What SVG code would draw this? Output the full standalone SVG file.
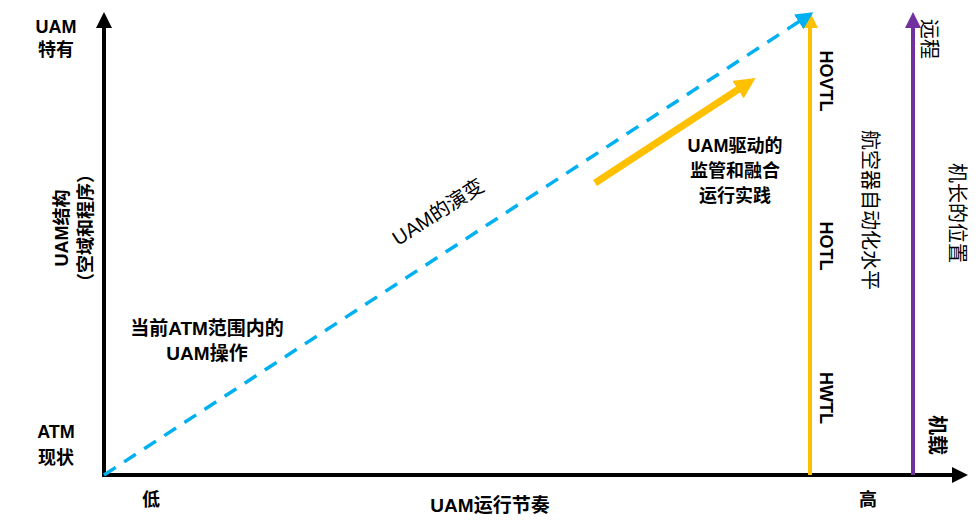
<svg xmlns="http://www.w3.org/2000/svg" width="980" height="529" viewBox="0 0 980 529">
<style>
text{font-family:"Liberation Sans","Noto Sans CJK SC",sans-serif;font-size:18px;font-weight:bold;fill:#000;text-anchor:middle;dominant-baseline:central}
.n{font-weight:normal}
.v{font-size:20px}
.l{font-size:19px}
</style>
<defs>
<marker id="ab" markerWidth="4" markerHeight="4" refX="2" refY="2" orient="auto" markerUnits="strokeWidth"><path d="M0,0 L4,2 L0,4 z" fill="#000"/></marker>
<marker id="ay" markerWidth="4" markerHeight="4" refX="2" refY="2" orient="auto" markerUnits="strokeWidth"><path d="M0,0 L4,2 L0,4 z" fill="#FFC000"/></marker>
<marker id="ap" markerWidth="4" markerHeight="4" refX="2" refY="2" orient="auto" markerUnits="strokeWidth"><path d="M0,0 L4,2 L0,4 z" fill="#7030A0"/></marker>
<marker id="ac" markerWidth="5" markerHeight="5" refX="2.5" refY="2.5" orient="auto" markerUnits="strokeWidth"><path d="M0,0 L5,2.5 L0,5 z" fill="#00B0F0"/></marker>
<marker id="ay2" markerWidth="3" markerHeight="3" refX="1.2" refY="1.5" orient="auto" markerUnits="strokeWidth"><path d="M0,0 L3,1.5 L0,3 z" fill="#FFC000"/></marker>
</defs>
<g id="connectors">
<line x1="104" y1="476" x2="104" y2="20" stroke="#000" stroke-width="4" marker-end="url(#ab)"/>
<line x1="102" y1="475" x2="960" y2="475" stroke="#000" stroke-width="4" marker-end="url(#ab)"/>
<line x1="810" y1="475" x2="810" y2="20" stroke="#FFC000" stroke-width="4" marker-end="url(#ay)"/>
<line x1="913" y1="475" x2="913" y2="20" stroke="#7030A0" stroke-width="4" marker-end="url(#ap)"/>
<line x1="104" y1="475" x2="806" y2="17" stroke="#00B0F0" stroke-width="3.5" stroke-dasharray="14,10" marker-end="url(#ac)"/>
<line x1="595" y1="183" x2="745" y2="85" stroke="#FFC000" stroke-width="7" marker-end="url(#ay2)"/>
</g>
<g id="y-top"><text x="56" y="27">UAM</text><text x="56" y="50">特有</text></g>
<g id="y-bottom"><text x="56" y="432">ATM</text><text x="56" y="458">现状</text></g>
<g id="y-label"><text transform="translate(62,228) rotate(-90)">UAM结构</text><text transform="translate(86,228) rotate(-90)">（空域和程序）</text></g>
<g id="x-low"><text x="151" y="500">低</text></g>
<g id="x-high"><text x="868" y="500">高</text></g>
<g id="x-label"><text class="l" x="490" y="505">UAM运行节奏</text></g>
<g id="current"><text class="l" x="207" y="328">当前ATM范围内的</text><text class="l" x="207" y="353">UAM操作</text></g>
<g id="evolution"><text class="n v" transform="translate(438,212) rotate(-33)">UAM的演变</text></g>
<g id="driven"><text x="735" y="146">UAM驱动的</text><text x="735" y="171">监管和融合</text><text x="735" y="196">运行实践</text></g>
<g id="hovtl"><text transform="translate(826,81) rotate(90)">HOVTL</text></g>
<g id="hotl"><text transform="translate(826,246) rotate(90)">HOTL</text></g>
<g id="hwtl"><text transform="translate(826,398) rotate(90)">HWTL</text></g>
<g id="automation"><text class="n v" transform="translate(870,210) rotate(90)">航空器自动化水平</text></g>
<g id="pilot"><text class="n v" transform="translate(957,213) rotate(90)">机长的位置</text></g>
<g id="remote"><text class="n v" transform="translate(929,39) rotate(90)">远程</text></g>
<g id="onboard"><text class="v" transform="translate(937,435) rotate(90)">机载</text></g>
</svg>
